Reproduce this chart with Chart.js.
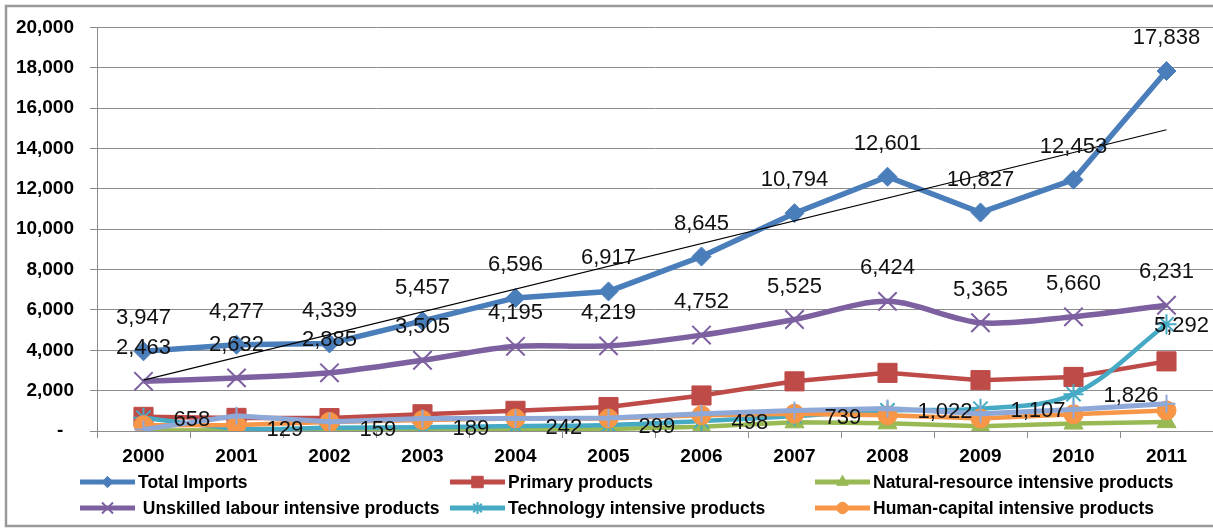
<!DOCTYPE html>
<html>
<head>
<meta charset="utf-8">
<script src="https://cdn.jsdelivr.net/npm/chart.js@4.4.0/dist/chart.umd.min.js"></script>
<style>
    html, body { margin: 0; padding: 0; background: #fff; }
    #wrap { width: 1213px; height: 528px; position: relative; overflow: hidden; }
</style>
</head>
<body>
<div id="wrap"><canvas id="chart" width="1213" height="528"></canvas></div>
<script>
        // ── Data ──
        const years = ['2000', '2001', '2002', '2003', '2004', '2005', '2006', '2007', '2008', '2009', '2010', '2011'];
        const totalImports    = [3947, 4277, 4339, 5457, 6596, 6917, 8645, 10794, 12601, 10827, 12453, 17838];
        const primaryProducts = [700, 650, 640, 830, 1000, 1190, 1760, 2460, 2880, 2520, 2680, 3450];
        const naturalResource = [30, 40, 50, 60, 80, 100, 210, 430, 380, 230, 370, 440];
        const unskilledLabour = [2463, 2632, 2885, 3505, 4195, 4219, 4752, 5525, 6424, 5365, 5660, 6231];
        const technology      = [658, 129, 159, 189, 242, 299, 498, 739, 1022, 1107, 1826, 5292];
        const humanCapital    = [290, 300, 450, 540, 620, 620, 780, 860, 780, 620, 830, 1020];
        const otherProducts   = [80, 760, 455, 620, 620, 650, 860, 1020, 1110, 860, 1070, 1350];
        // linear trend of Total Imports, end points as drawn
        const totalTrend      = [2520, null, null, null, null, null, null, null, null, null, null, 14930];
        const yMin = 0, yMax = 20000, yStep = 2000;

        const GRID = '#8c8c8c';
        const FONT = '"Liberation Sans", Arial, sans-serif';

        // ── Chart frame ──
        const framePlugin = {
            id: 'frame',
            beforeDraw(chart) {
                const ctx = chart.ctx;
                ctx.save();
                ctx.fillStyle = '#fff';
                ctx.fillRect(0, 0, chart.width, chart.height);
                ctx.strokeStyle = '#9a9a9a';
                ctx.lineWidth = 2.5;
                ctx.strokeRect(6, 6, chart.width + 20, 520);
                ctx.restore();
            }
        };

        // ── Value labels (Excel style: above / right) ──
        const valueLabels = {
            id: 'valueLabels',
            afterDatasetsDraw(chart) {
                const ctx = chart.ctx;
                ctx.save();
                ctx.font = '22px ' + FONT;
                ctx.fillStyle = '#111';
                ctx.textBaseline = 'middle';
                ctx.textAlign = 'left';
                chart.data.datasets.forEach((ds, i) => {
                    if (!ds.valueLabel) return;
                    chart.getDatasetMeta(i).data.forEach((pt, j) => {
                        const text = ds.data[j].toLocaleString('en-US');
                        const w = ctx.measureText(text).width;
                        if (ds.valueLabel === 'above') {
                            ctx.fillText(text, pt.x - w / 2, pt.y - 33);
                        } else {
                            ctx.fillText(text, Math.min(pt.x + 30, chart.width - w - 4), pt.y + 2);
                        }
                    });
                });
                ctx.restore();
            }
        };

        // ── Legend in a 3 x 2 grid ──
        const legendPlugin = {
            id: 'gridLegend',
            afterDraw(chart) {
                const ctx = chart.ctx;
                const rows = [482, 508];
                const cols = [80, 450, 815];
                ctx.save();
                chart.data.datasets.forEach(ds => {
                    if (ds.legendSlot === undefined) return;
                    const x = cols[ds.legendSlot % 3], y = rows[Math.floor(ds.legendSlot / 3)];
                    ctx.strokeStyle = ds.borderColor;
                    ctx.lineWidth = 5;
                    ctx.lineCap = 'butt';
                    ctx.beginPath(); ctx.moveTo(x, y); ctx.lineTo(x + 55, y); ctx.stroke();
                    ctx.fillStyle = ds.pointBackgroundColor;
                    ctx.strokeStyle = ds.pointBorderColor;
                    ctx.lineWidth = ds.pointBorderWidth;
                    Chart.helpers.drawPoint(ctx, { pointStyle: ds.pointStyle, radius: ds.pointRadius * 0.6, borderWidth: ds.pointBorderWidth, rotation: 0 }, x + 27.5, y);
                    ctx.fillStyle = '#000';
                    ctx.font = 'bold 17.5px ' + FONT;
                    ctx.textBaseline = 'middle';
                    ctx.fillText(ds.label, x + 58, y + 1);
                });
                ctx.restore();
            }
        };

        function series(label, data, color, style, radius, opts) {
            return Object.assign({
                label, data,
                borderColor: color, backgroundColor: color,
                pointBackgroundColor: color, pointBorderColor: color,
                pointStyle: style, pointRadius: radius, pointBorderWidth: 1,
                borderWidth: 4.5, tension: 0, fill: false
            }, opts);
        }

        new Chart(document.getElementById('chart'), {
            type: 'line',
            data: {
                labels: years,
                datasets: [
                    series('Total Imports', totalImports, '#4A7EBB', 'rectRot', 9.5, { borderWidth: 5.5, order: 10, legendSlot: 0, valueLabel: 'above' }),
                    series('Primary products', primaryProducts, '#BE4B48', 'rect', 13.5, { order: 9, legendSlot: 1 }),
                    series('Natural-resource intensive products', naturalResource, '#98B954', 'triangle', 11, { order: 8, legendSlot: 2 }),
                    series(' Unskilled labour intensive products', unskilledLabour, '#7D60A0', 'crossRot', 13, { borderWidth: 5.5, pointBorderWidth: 2, tension: 0.3, order: 7, legendSlot: 3, valueLabel: 'above' }),
                    series('Technology intensive products', technology, '#46AAC5', 'star', 10, { pointBorderWidth: 2, tension: 0.35, order: 6, legendSlot: 4, valueLabel: 'right' }),
                    series('Human-capital intensive products', humanCapital, '#F79646', 'circle', 9.5, { order: 5, legendSlot: 5 }),
                    series('Other products', otherProducts, '#8EA8D8', 'cross', 9, { pointBorderWidth: 2, borderWidth: 5, order: 4 }),
                    { label: 'Trend', data: totalTrend, borderColor: '#000', borderWidth: 1.2, pointRadius: 0, spanGaps: true, fill: false, order: 0 }
                ]
            },
            options: {
                responsive: false,
                animation: false,
                layout: { autoPadding: false, padding: { left: 0, right: 0, top: 21, bottom: 57 } },
                plugins: { legend: { display: false }, tooltip: { enabled: false } },
                scales: {
                    x: {
                        offset: true,
                        grid: { display: true, drawOnChartArea: false, offset: true, tickLength: 7, color: GRID },
                        border: { color: GRID, width: 1 },
                        ticks: { color: '#000', padding: 7, font: { family: FONT, size: 19, weight: 'bold' } },
                        afterFit: s => { s.height = 40; s.paddingLeft = 0; s.paddingRight = 0; }
                    },
                    y: {
                        min: yMin, max: yMax,
                        grid: { color: GRID, tickLength: 7 },
                        border: { color: GRID, width: 1 },
                        ticks: {
                            stepSize: yStep, color: '#000', padding: 16,
                            font: { family: FONT, size: 19, weight: 'bold' },
                            callback: v => v === 0 ? '-\u00a0\u00a0' : v.toLocaleString('en-US')
                        },
                        afterFit: s => { s.width = 97; }
                    }
                }
            },
            plugins: [framePlugin, valueLabels, legendPlugin]
        });
</script>
</body>
</html>
